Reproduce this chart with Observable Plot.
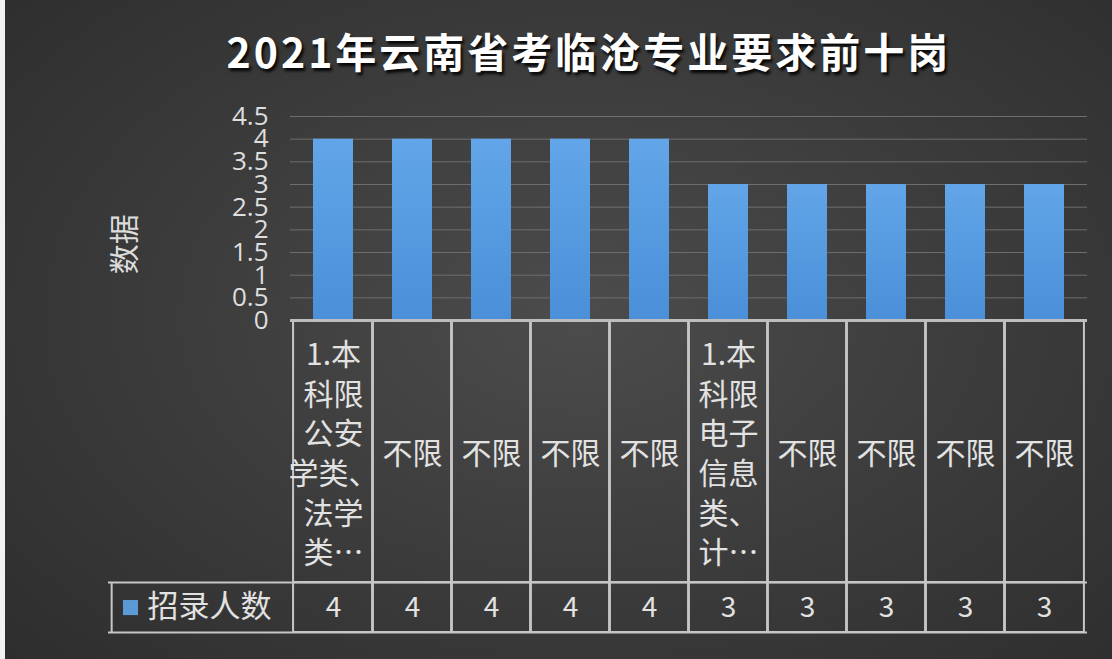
<!DOCTYPE html>
<html>
<head>
<meta charset="utf-8">
<script src="https://cdn.jsdelivr.net/npm/d3@7"></script>
<script src="https://cdn.jsdelivr.net/npm/@observablehq/plot@0.6"></script>
<style>
  html, body { margin: 0; padding: 0; background: #f2f2f2; }
  #wrap {
    position: relative; width: 1112px; height: 659px; overflow: hidden;
    background: #f2f2f2;
  }
  #bg {
    position: absolute; left: 5px; top: 0; width: 1107px; height: 659px;
    background: radial-gradient(ellipse 75% 80% at 52% 48%, #4c4c4c 0%, #3d3d3d 45%, #2c2c2c 100%);
  }
  #title {
    position: absolute; left: 189px; width: 800px; top: 20px; line-height: 60px;
    text-align: center; color: #ffffff; font-family: "Noto Sans CJK SC", "Noto Sans", sans-serif;
    font-weight: bold; font-size: 41px; letter-spacing: 3px;
    text-shadow: 2px 3px 3px rgba(0,0,0,0.9);
  }
  #chart { position: absolute; left: 0; top: 0; }
</style>
</head>
<body>
<div id="wrap">
  <div id="bg"></div>
  <div id="chart"></div>
  <div id="title">2021年云南省考临沧专业要求前十岗</div>
</div>
<script>
// ---- data ----
const categories = [
  "1.本\n科限\n公安\n学类、\n法学\n类…",
  "不限", "不限", "不限", "不限",
  "1.本\n科限\n电子\n信息\n类、\n计…",
  "不限", "不限", "不限", "不限"
];
const seriesName = "招录人数";
const values = [4, 4, 4, 4, 4, 3, 3, 3, 3, 3];
const yTicks = [0, 0.5, 1, 1.5, 2, 2.5, 3, 3.5, 4, 4.5];
const yLabel = "数据";

// ---- layout ----
const W = 1112, H = 659;
const mL = 290, mR = 25, mT = 116, mB = 27;
const rowSplit = -5.78;   // boundary between label row and value row (in y units)
const tableBottom = -6.88;
const step = (W - mL - mR) / categories.length;
const gap = step / 4;      // gap between bar edge and cell edge
const legendW = 182;

const rows = categories.map((c, i) => ({i, label: c, value: values[i]}));
const idx = rows.map(d => d.i);

const cjk = "'Noto Sans CJK SC', 'Noto Sans', sans-serif";
const lineCol = "#c6c6c6";

const defs = () => {
  const g = d3.create("svg:defs");
  const lg = g.append("linearGradient").attr("id", "barGrad").attr("x1", 0).attr("x2", 0).attr("y1", 0).attr("y2", 1);
  lg.append("stop").attr("offset", "0%").attr("stop-color", "#62a5e8");
  lg.append("stop").attr("offset", "100%").attr("stop-color", "#4a8fd8");
  return g.node();
};

const chart = Plot.plot({
  width: W, height: H,
  marginLeft: mL, marginRight: mR, marginTop: mT, marginBottom: mB,
  style: {background: "transparent", color: "#dcdcdc", overflow: "visible"},
  x: {type: "band", domain: idx, paddingInner: 0.5, paddingOuter: 0.25, axis: null},
  y: {domain: [tableBottom, 4.5], axis: null},
  marks: [
    defs,
    // gridlines
    Plot.ruleY(yTicks.filter(t => t > 0), {stroke: "#6e6e6e", strokeWidth: 1}),
    // bars
    Plot.barY(rows, {x: "i", y: "value", fill: "url(#barGrad)"}),
    // y axis tick labels
    Plot.text(yTicks, {y: d => d, frameAnchor: "left", textAnchor: "end", dx: -22, text: d => String(d),
      fontSize: 26, fontFamily: "'Open Sans', 'Noto Sans', sans-serif", fill: "#dedede"}),
    // y axis title
    Plot.text([yLabel], {frameAnchor: "left", y: 1.68, rotate: -90, dx: -165, textAnchor: "middle",
      fontSize: 30, fontFamily: cjk, fill: "#dcdcdc"}),
    // table cells (label row and value row)
    Plot.barY(rows, {x: "i", y1: rowSplit, y2: 0, insetLeft: -gap, insetRight: -gap,
      fill: "none", stroke: lineCol, strokeWidth: 2}),
    Plot.barY(rows, {x: "i", y1: tableBottom, y2: rowSplit, insetLeft: -gap, insetRight: -gap,
      fill: "none", stroke: lineCol, strokeWidth: 2}),
    // legend cell
    Plot.ruleY([rowSplit, tableBottom], {insetLeft: -legendW, stroke: lineCol, strokeWidth: 2}),
    Plot.ruleX([0], {x: d => d, y1: tableBottom, y2: rowSplit, dx: -step / 2 - legendW, stroke: lineCol, strokeWidth: 2}),
    // x axis line
    Plot.ruleY([0], {stroke: "#bdbdbd", strokeWidth: 3}),
    // category labels
    Plot.text(rows, {x: "i", y: rowSplit / 2, text: "label", lineHeight: 1.32, lineAnchor: "middle",
      fontSize: 30, fontFamily: cjk, fill: "#e2e2e2"}),
    // value row
    Plot.text(rows, {x: "i", y: (rowSplit + tableBottom) / 2, text: d => String(d.value),
      fontSize: 28, fontFamily: cjk, fill: "#e2e2e2"}),
    // legend
    Plot.dot([seriesName], {frameAnchor: "left", y: (rowSplit + tableBottom) / 2, dx: -160, symbol: "square", r: 8.5,
      fill: "#5b9bd5", stroke: "none"}),
    Plot.text([seriesName], {frameAnchor: "left", y: (rowSplit + tableBottom) / 2, dx: -143, textAnchor: "start",
      fontSize: 31, fontFamily: cjk, fill: "#e2e2e2"})
  ]
});
document.getElementById("chart").appendChild(chart);
</script>
</body>
</html>
